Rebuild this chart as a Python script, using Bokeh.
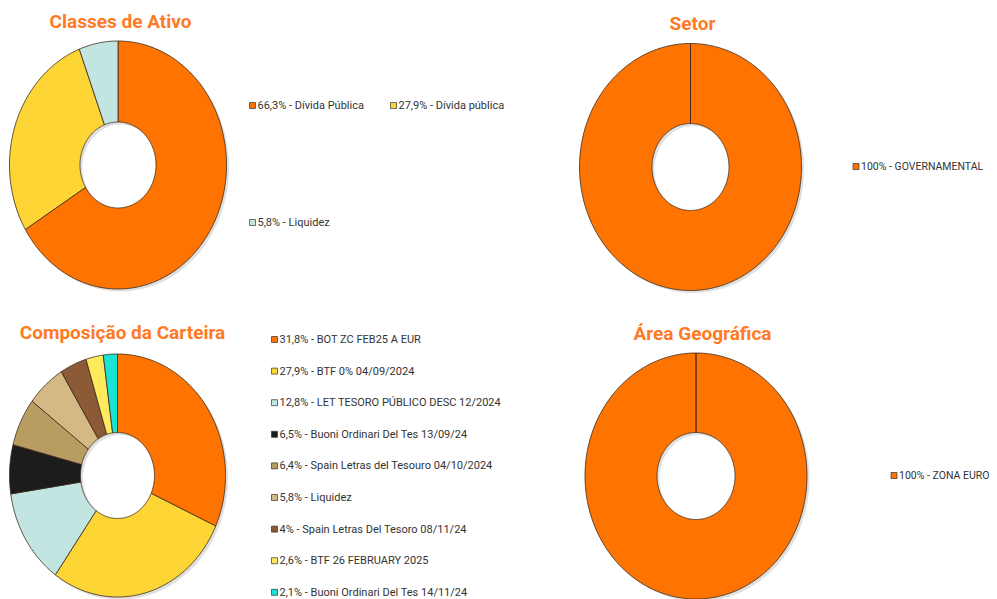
import numpy as np
from bokeh.plotting import figure
from bokeh.models import Range1d, ColumnDataSource
from bokeh.embed import file_html
from bokeh.resources import INLINE
from bokeh.core.properties import value

# ---------------- data ----------------
classes_names = ["Dívida Pública", "Dívida pública", "Liquidez"]
classes_values = [66.3, 27.9, 5.8]
classes_colors = ["#FF7300", "#FDD535", "#C2E5E1"]

setor_names = ["GOVERNAMENTAL"]
setor_values = [100]
setor_colors = ["#FF7300"]

carteira_names = [
    "BOT ZC FEB25 A EUR",
    "BTF 0% 04/09/2024",
    "LET TESORO PÚBLICO DESC 12/2024",
    "Buoni Ordinari Del Tes 13/09/24",
    "Spain Letras del Tesouro 04/10/2024",
    "Liquidez",
    "Spain Letras Del Tesoro 08/11/24",
    "BTF 26 FEBRUARY 2025",
    "Buoni Ordinari Del Tes 14/11/24",
]
carteira_values = [31.8, 27.9, 12.8, 6.5, 6.4, 5.8, 4, 2.6, 2.1]
carteira_colors = ["#FF7300", "#FDD535", "#C2E5E1", "#1C1C1C", "#B89C62",
                   "#D4B985", "#8C5A36", "#FFE95C", "#19E3D2"]

geo_names = ["ZONA EURO"]
geo_values = [100]
geo_colors = ["#FF7300"]

titles = ["Classes de Ativo", "Setor", "Composição da Carteira", "Área Geográfica"]

TITLE_COLOR = "#FF7A24"
TEXT_COLOR = "#333333"
LEG_FONT = "Roboto"
TITLE_FONT = "Roboto"


def fmt(v):
    return f"{v:g}".replace(".", ",") + "%"


p = figure(width=997, height=599, x_range=Range1d(0, 997), y_range=Range1d(599, 0),
           output_backend="svg", toolbar_location=None, min_border=0,
           x_axis_location=None, y_axis_location=None)
p.grid.visible = False
p.outline_line_color = None
p.background_fill_color = "white"
p.border_fill_color = "white"


def ring_polys(cx, cy, rx, ry, hx, hy, values):
    total = float(sum(values))
    start = 0.0
    xs, ys = [], []
    for v in values:
        end = start + v / total * 2 * np.pi
        n = max(int(np.degrees(end - start)), 3)
        t = np.linspace(start, end, n + 1)
        ox = cx + rx * np.sin(t)
        oy = cy - ry * np.cos(t)
        ix = cx + hx * np.sin(t[::-1])
        iy = cy - hy * np.cos(t[::-1])
        xs.append(list(np.concatenate([ox, ix])))
        ys.append(list(np.concatenate([oy, iy])))
        start = end
    return xs, ys


def donut(cx, cy, rx, ry, hx, hy, values, colors):
    # soft shadow
    sx, sy = ring_polys(cx + 2.5, cy + 2.5, rx, ry, hx, hy, [1])
    p.patches(sx, sy, fill_color="#000000", fill_alpha=0.12, line_color=None)
    xs, ys = ring_polys(cx, cy, rx, ry, hx, hy, values)
    src = ColumnDataSource(dict(xs=xs, ys=ys, color=colors))
    p.patches("xs", "ys", source=src, fill_color="color", line_color="#3A2A1A",
              line_width=0.8)


def legend(xs_, ys_, labels, colors, size="11px"):
    p.rect(x=xs_, y=ys_, width=6, height=6, fill_color=colors, line_color="#333333",
           line_width=0.7)
    p.text(x=[x + 5 for x in xs_], y=ys_, text=labels, text_font=value(LEG_FONT),
           text_font_size=size, text_baseline="middle", text_align="left",
           text_color=TEXT_COLOR)


def title(x, y, t):
    p.text(x=[x], y=[y], text=[t], text_font=value(TITLE_FONT), text_font_size="19px",
           text_font_style="bold", text_align="center", text_baseline="middle",
           text_color=TITLE_COLOR)


# Classes de Ativo
donut(117.5, 164.5, 108.5, 124, 38, 43, classes_values, classes_colors)
title(120, 21, titles[0])
legend([252, 393, 252], [105, 105, 222],
       [f"{fmt(v)} -  {n}" for v, n in zip(classes_values, classes_names)],
       classes_colors)

# Setor
donut(690, 166.5, 111, 123.5, 38.5, 43.5, setor_values, setor_colors)
title(692, 23, titles[1])
legend([855.5], [166], [f"{fmt(v)} - {n}" for v, n in zip(setor_values, setor_names)],
       setor_colors, "10.5px")

# Composição da Carteira
donut(117, 475, 108, 121.5, 37, 43, carteira_values, carteira_colors)
title(122, 332, titles[2])
n = len(carteira_values)
legend([274] * n, [339 + 31.6 * i for i in range(n)],
       [f"{fmt(v)} - {nm}" for v, nm in zip(carteira_values, carteira_names)],
       carteira_colors)

# Área Geográfica
donut(695.5, 475.5, 111, 123, 39, 43.5, geo_values, geo_colors)
title(702, 333, titles[3])
legend([893.5], [475], [f"{fmt(v)} - {nm}" for v, nm in zip(geo_values, geo_names)],
       geo_colors, "10.5px")

open("out.html", "w").write(file_html(p, INLINE))
